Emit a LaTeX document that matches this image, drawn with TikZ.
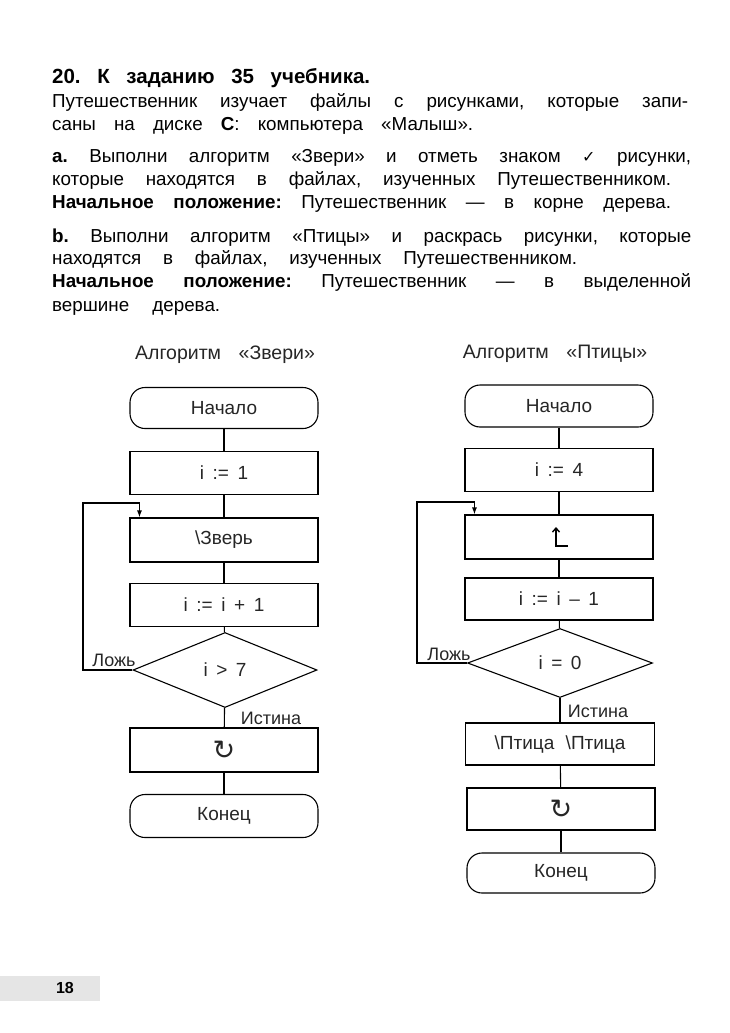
\documentclass[tikz,border=0pt]{standalone}
\usepackage{fontspec}
\setmainfont{Liberation Sans}
\newfontfamily\symfont{DejaVu Sans}
\usetikzlibrary{shapes.geometric,arrows.meta}
\newcommand{\gapsp}{\hspace{0.45em}}
\newcommand{\jline}[2]{{\frenchspacing\spaceskip=0.3em plus 1fil\relax\makebox[#1pt][s]{#2}}}
\begin{document}
\begin{tikzpicture}[x=1pt,y=-1pt,
  txt/.style={anchor=base west, inner sep=0pt, font=\fontsize{18.8}{22}\selectfont},
  fc/.style={font=\fontsize{19}{21}\selectfont, text=black!85},
  proc/.style={fc, draw, line width=1.1pt, minimum width=188pt, minimum height=43pt, inner sep=0pt},
  term/.style={proc, rounded corners=15pt},
  cond/.style={fc, draw, line width=1.1pt, diamond, minimum width=184pt, minimum height=74pt, inner sep=0pt, aspect=2.5},
  link/.style={line width=1.1pt},
  arr/.style={line width=1.1pt, -{Latex[length=7pt,width=5pt]}},
  lbl/.style={font=\fontsize{18}{20}\selectfont, text=black!85, inner sep=1pt},
  ttl/.style={font=\fontsize{19.5}{21}\selectfont, text=black!85, inner sep=1pt},
  rot/.style={font=\symfont\fontsize{27}{29}\selectfont}
]
\useasboundingbox (0,0) rectangle (730,1033);
\fill[white] (0,0) rectangle (730,1033);

% --- text block ---
\node[txt, font=\fontsize{20.5}{22}\selectfont] (t1) at (52,83) {\jline{318}{\bfseries 20. К заданию 35 учебника.}};
\node[txt] (t2) at (52,107) {\jline{636}{Путешественник изучает файлы с рисунками, которые запи-}};
\node[txt] (t3) at (52,130) {\jline{421}{саны на диске \textbf{C}: компьютера «Малыш».}};
\node[txt] (t4) at (52,162) {\jline{639}{\textbf{а.} Выполни алгоритм «Звери» и отметь знаком {\symfont\fontsize{16}{18}\selectfont ✓} рисунки,}};
\node[txt] (t5) at (52,185) {\jline{619}{которые находятся в файлах, изученных Путешественником.}};
\node[txt] (t6) at (52,208) {\jline{619}{\textbf{Начальное положение:} Путешественник — в корне дерева.}};
\node[txt] (t7) at (52,242) {\jline{639}{\textbf{b.} Выполни алгоритм «Птицы» и раскрась рисунки, которые}};
\node[txt] (t8) at (52,264) {\jline{525}{находятся в файлах, изученных Путешественником.}};
\node[txt] (t9) at (52,287) {\jline{639}{\textbf{Начальное положение:} Путешественник — в выделенной}};
\node[txt] (t10) at (52,311) {\jline{168}{вершине дерева.}};

% --- left flowchart ---
\node[ttl] (h1) at (225,355) {Алгоритм\hspace{0.9em}«Звери»};
\node[term, minimum height=41pt] (s1) at (224,408) {Начало};
\node[proc] (a1) at (224,473) {i\gapsp:=\gapsp1};
\node[proc, minimum height=44pt] (a2) at (224,540) {\textbackslash Зверь};
\node[proc] (a3) at (224,605) {i\gapsp:=\gapsp i\gapsp+\gapsp1};
\node[cond, minimum height=75pt] (d1) at (225,670) {i\gapsp>\gapsp7};
\node[proc, minimum height=44pt] (a4) at (224,750) {{\symfont\fontsize{27}{29}\selectfont ↻}};
\node[term] (e1) at (224,816) {Конец};
\draw[link] (s1) -- (a1);
\draw[link] (a1) -- (a2);
\draw[link] (a2) -- (a3);
\draw[link] (a3) -- (d1);
\draw[link] (d1) -- (a4);
\draw[link] (a4) -- (e1);
\coordinate (l1) at (83,503);
\draw[arr] (d1.west) -| (l1) -| ([xshift=10pt]a2.north west);
\node[lbl] (f1) at (114,660) {Ложь};
\node[lbl] (tr1) at (271,718) {Истина};

% --- right flowchart ---
\node[ttl] (h2) at (555,354) {Алгоритм\hspace{0.9em}«Птицы»};
\node[term, minimum height=42pt] (s2) at (559,406) {Начало};
\node[proc] (b1) at (559,470) {i\gapsp:=\gapsp4};
\node[proc, minimum height=44pt] (b2) at (559,537) {};
\node[proc, minimum height=42pt] (b3) at (559,599) {i\gapsp:=\gapsp i\gapsp–\gapsp1};
\node[cond, minimum width=185pt, minimum height=69pt] (d2) at (560,663) {i\gapsp=\gapsp0};
\node[proc, minimum width=189pt, minimum height=42pt] (b4) at (560,744) {\textbackslash Птица\hspace{0.6em}\textbackslash Птица};
\node[proc, minimum height=42pt] (b5) at (561,809) {{\symfont\fontsize{27}{29}\selectfont ↻}};
\node[term, minimum height=40pt] (e2) at (561,873) {Конец};
\draw[link] (s2) -- (b1);
\draw[link] (b1) -- (b2);
\draw[link] (b2) -- (b3);
\draw[link] (b3) -- (d2);
\draw[link] (d2) -- (b4);
\draw[link] (b4) -- (b5);
\draw[link] (b5) -- (e2);
\coordinate (l2) at (417,502);
\draw[arr] (d2.west) -| (l2) -| ([xshift=10pt]b2.north west);
\node[lbl] (f2) at (449,654) {Ложь};
\node[lbl] (tr2) at (598,711) {Истина};
% up-arrow symbol inside b2
\draw[line width=1.4pt, -{Straight Barb[length=4pt, width=7pt]}] ([shift={(9pt,-9pt)}]b2.center) -- ([shift={(-3pt,-9pt)}]b2.center) -- ([shift={(-3pt,10pt)}]b2.center);

% --- page number ---
\fill[black!10] (0,976) rectangle (100,1001);
\node[font=\fontsize{16}{18}\selectfont\bfseries] (pg) at (65,988) {18};
\end{tikzpicture}
\end{document}
